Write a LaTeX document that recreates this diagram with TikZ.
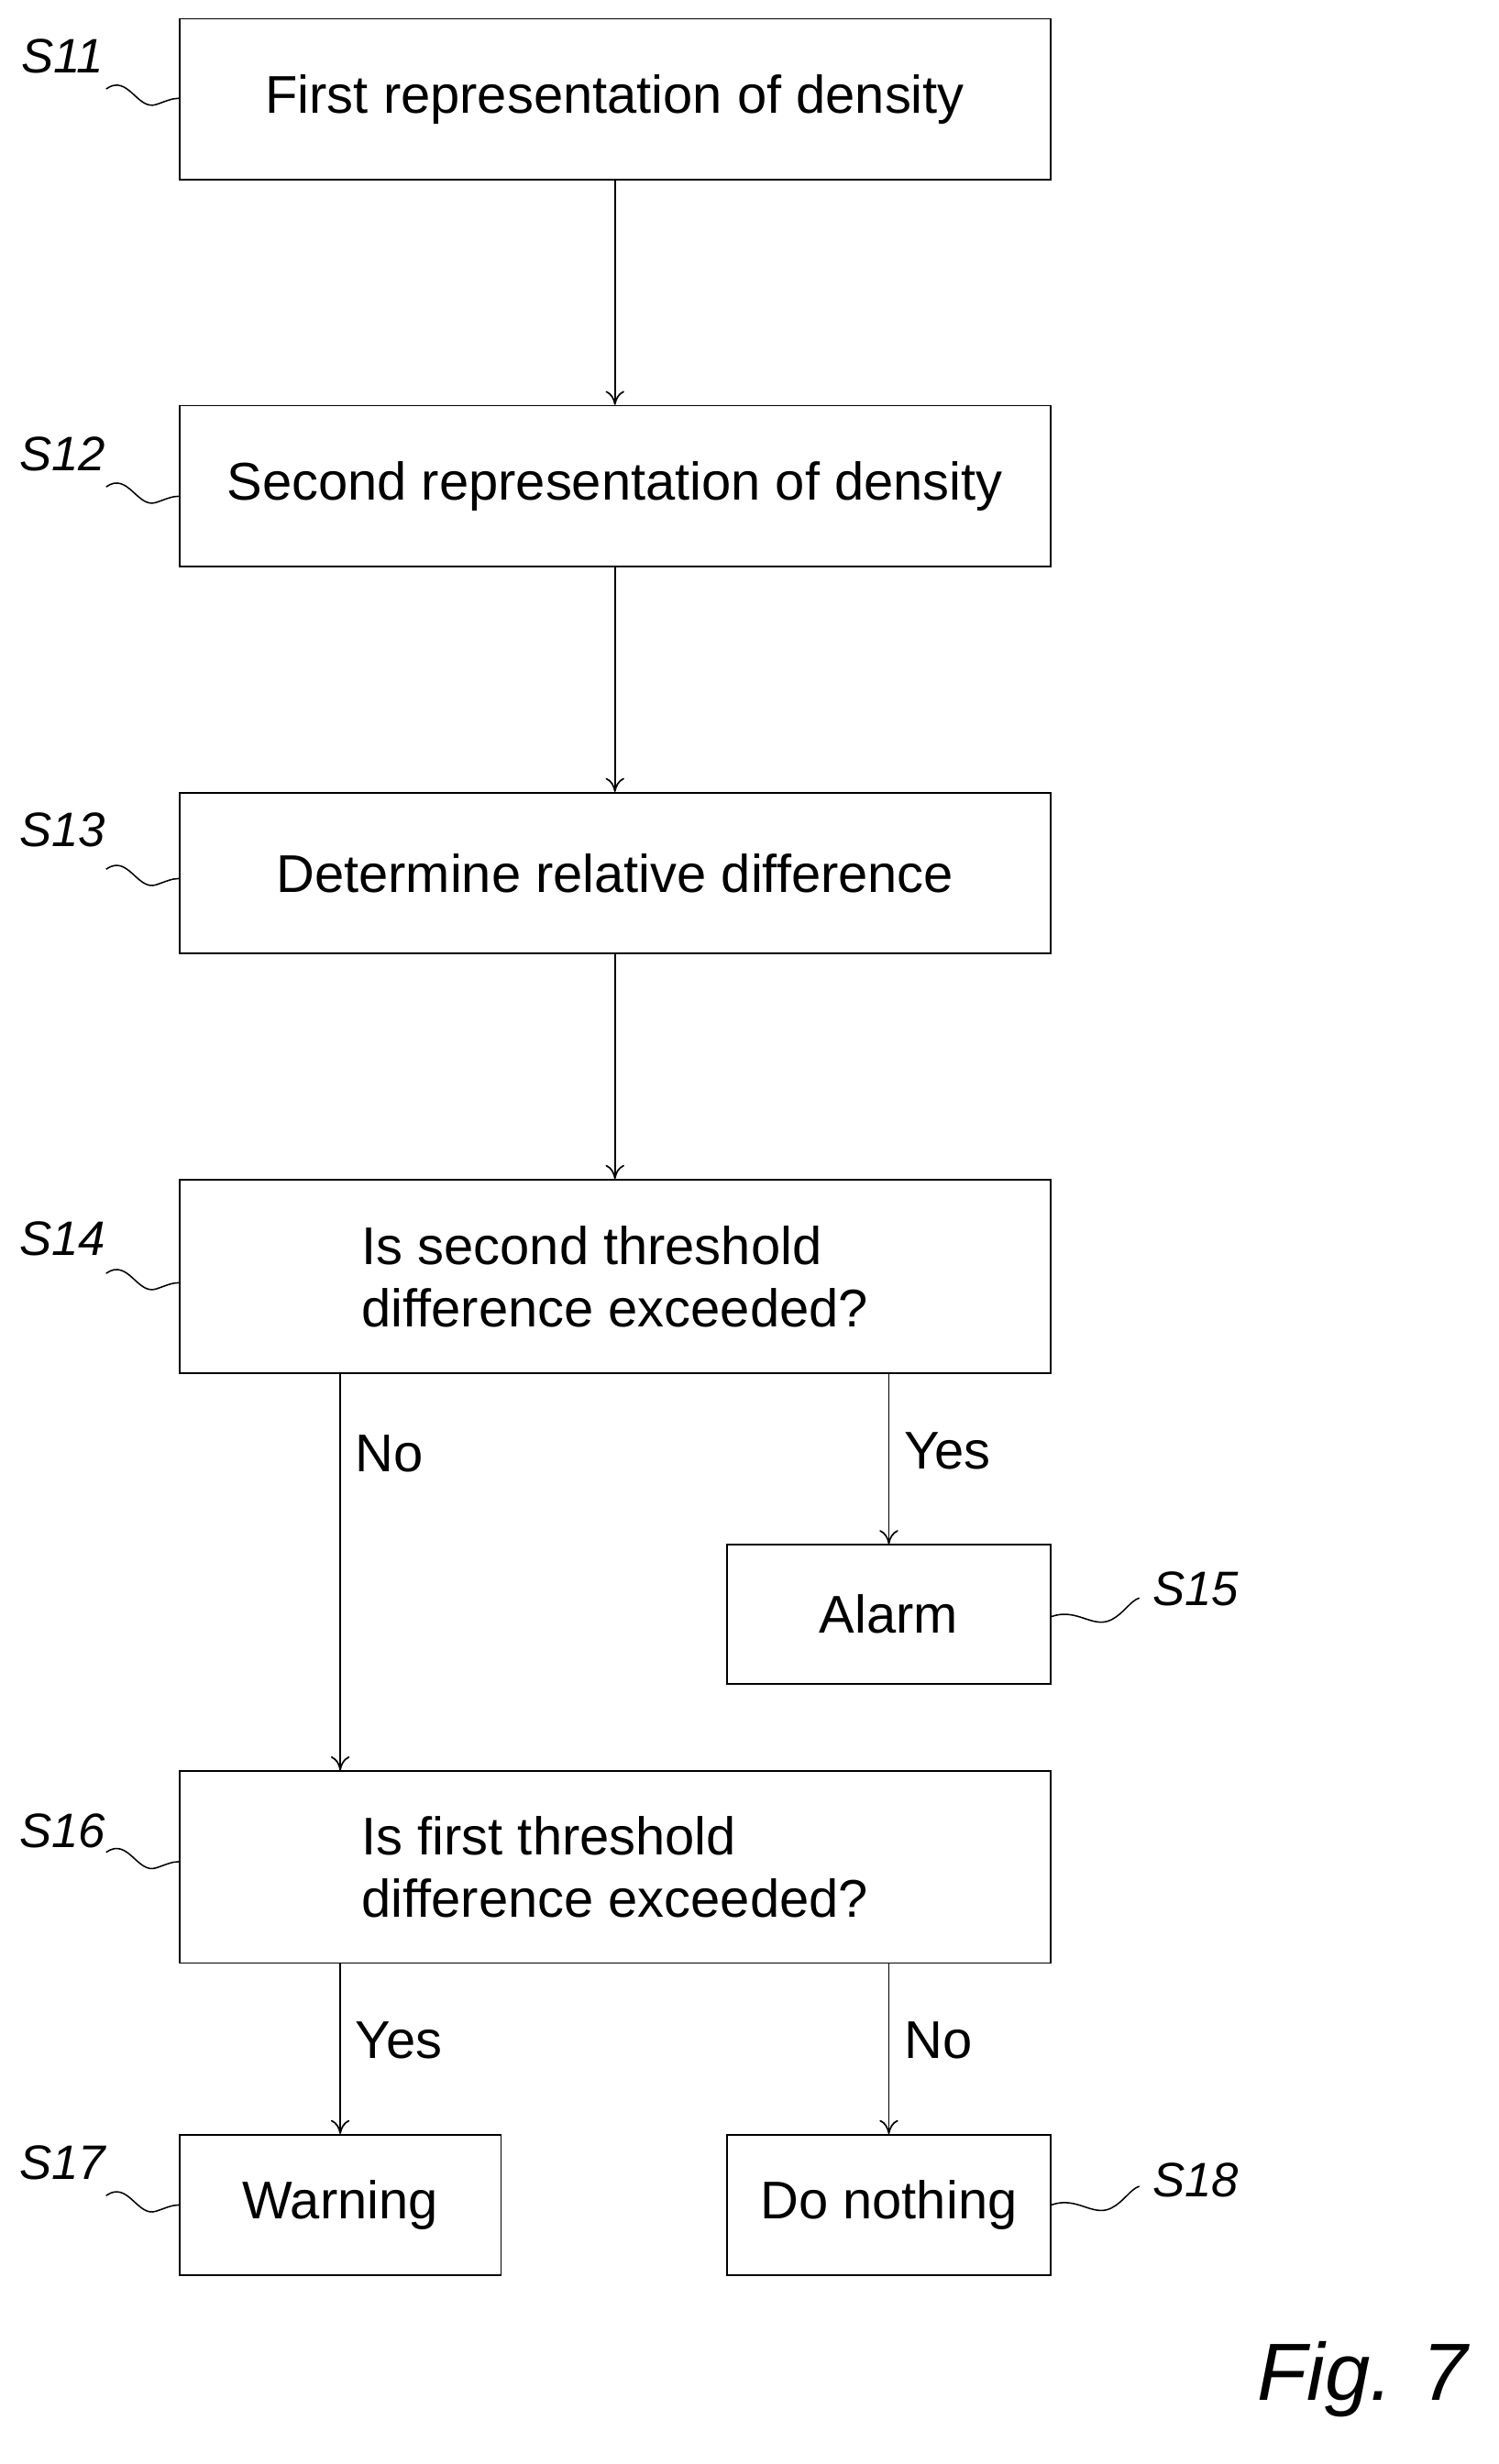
\documentclass[tikz,border=0pt]{standalone}
\usepackage{fontspec}
\setmainfont{Liberation Sans}
\usetikzlibrary{arrows.meta,calc}
\begin{document}
\begin{tikzpicture}[x=1pt,y=-1pt,
  box/.style={draw,line width=1pt,font=\fontsize{34}{40}\selectfont,inner sep=0pt},
  arr/.style={line width=1pt,-{To[length=9pt,width=12pt]}},
  lab/.style={font=\fontsize{31}{34}\selectfont\itshape},
  yn/.style={font=\fontsize{34}{36}\selectfont},
  sq/.style={line width=0.9pt}]
\useasboundingbox (0,0) rectangle (960,1579);
\node[box,minimum width=558pt,minimum height=103pt] (s11) at (394,63.5) {First representation of density};
\node[box,minimum width=558pt,minimum height=103pt] (s12) at (394,311.5) {Second representation of density};
\node[box,minimum width=558pt,minimum height=103pt] (s13) at (394,559.5) {Determine relative difference};
\node[box,minimum width=558pt,minimum height=124pt,align=left] (s14) at (394,818) {Is second threshold\\difference exceeded?};
\node[box,minimum width=207pt,minimum height=89pt] (s15) at (569.5,1034.5) {Alarm};
\node[box,minimum width=558pt,minimum height=123pt,align=left] (s16) at (394,1196.5) {Is first threshold\\difference exceeded?};
\node[box,minimum width=206pt,minimum height=90pt] (s17) at (218,1413) {Warning};
\node[box,minimum width=207pt,minimum height=90pt] (s18) at (569.5,1413) {Do nothing};
\draw[arr] (s11) -- (s12);
\draw[arr] (s12) -- (s13);
\draw[arr] (s13) -- (s14);
\draw[arr] (s14.south -| s17) -- node[pos=0.2,right=6pt,yn]{No} (s16.north -| s17);
\draw[arr] (s14.south -| s15) -- node[pos=0.45,right=6pt,yn]{Yes} (s15);
\draw[arr] (s16.south -| s17) -- node[pos=0.45,right=6pt,yn]{Yes} (s17);
\draw[arr] (s16.south -| s18) -- node[pos=0.45,right=6pt,yn]{No} (s18);
\node[lab] (l11) at (40,36) {S11};
\node[lab] (l12) at (40,291) {S12};
\node[lab] (l13) at (40,532) {S13};
\node[lab] (l14) at (40,794) {S14};
\node[lab] (l15) at (766,1018) {S15};
\node[lab] (l16) at (40,1173) {S16};
\node[lab] (l17) at (40,1386) {S17};
\node[lab] (l18) at (766,1397) {S18};
\foreach \y/\n in {63/s11,318/s12,563/s13,822/s14,1193/s16,1413/s17}{
  \draw[sq] (68,\y-6) .. controls (82,\y-16) and (88,\y+8) .. (100,\y+4) .. controls (106,\y+2) and (110,\y) .. (\n.west |- 0,\y);
}
\foreach \y/\n in {1036/s15,1413/s18}{
  \draw[sq] (\n.east |- 0,\y) .. controls (690,\y-6) and (700,\y+8) .. (712,\y+2) .. controls (720,\y-2) and (724,\y-10) .. (730,\y-12);
}
\node[font=\fontsize{52}{56}\selectfont\itshape] (fig) at (873,1525) {Fig. 7};
\end{tikzpicture}
\end{document}
